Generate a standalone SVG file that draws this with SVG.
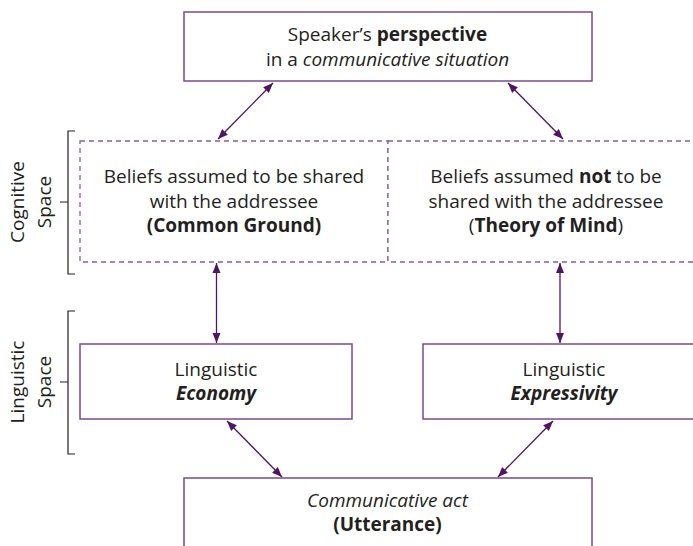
<svg xmlns="http://www.w3.org/2000/svg" width="693" height="546" viewBox="0 0 693 546">
<style>
text{font-family:"Open Sans","Noto Sans",sans-serif;font-size:19px;fill:#231f20;text-anchor:middle}
.b{font-weight:bold}
.i{font-style:italic}
.box{fill:#fff;stroke:#7a4a90;stroke-width:1.5}
.dash{fill:#fff;stroke:#8b5c9e;stroke-width:1.3;stroke-dasharray:5 4}
.arr{stroke:#4f1466;stroke-width:1.3;fill:none;marker-start:url(#h);marker-end:url(#h)}
.br{stroke:#231f20;stroke-width:1.2;fill:none}
</style>
<defs>
<marker id="h" viewBox="0 0 10 10" refX="10" refY="5" markerWidth="10" markerHeight="10" markerUnits="userSpaceOnUse" orient="auto-start-reverse">
<path d="M0,1 L10,5 L0,9 Z" fill="#4f1466"/>
</marker>
</defs>
<g id="connectors">
<line class="arr" x1="273" y1="83" x2="218" y2="139"/>
<line class="arr" x1="508" y1="83" x2="563" y2="139"/>
<line class="arr" x1="216.5" y1="263" x2="216.5" y2="343"/>
<line class="arr" x1="560" y1="263" x2="560" y2="343"/>
<line class="arr" x1="227" y1="421" x2="282" y2="477"/>
<line class="arr" x1="553" y1="421" x2="498" y2="477"/>
</g>
<g id="top">
<rect class="box" x="184" y="12" width="408" height="69"/>
<text x="387.5" y="40.5">Speaker’s <tspan class="b">perspective</tspan></text>
<text x="387.5" y="66">in a <tspan class="i">communicative situation</tspan></text>
</g>
<g id="common-ground">
<rect class="dash" x="80" y="141" width="308" height="121"/>
<text x="234" y="183">Beliefs assumed to be shared</text>
<text x="234" y="207.5">with the addressee</text>
<text x="234" y="231.5" class="b">(Common Ground)</text>
</g>
<g id="theory-of-mind">
<rect class="dash" x="388" y="141" width="317" height="121"/>
<text x="546" y="183">Beliefs assumed <tspan class="b">not</tspan> to be</text>
<text x="546" y="207.5">shared with the addressee</text>
<text x="546" y="231.5">(<tspan class="b">Theory of Mind</tspan>)</text>
</g>
<g id="economy">
<rect class="box" x="80" y="344" width="272" height="75"/>
<text x="216" y="376">Linguistic</text>
<text x="216" y="400" class="b i">Economy</text>
</g>
<g id="expressivity">
<rect class="box" x="423" y="344" width="282" height="75"/>
<text x="564" y="376">Linguistic</text>
<text x="564" y="400" class="b i">Expressivity</text>
</g>
<g id="utterance">
<rect class="box" x="184" y="478" width="408" height="80"/>
<text x="387.5" y="506.5" class="i">Communicative act</text>
<text x="387.5" y="530.5" class="b">(Utterance)</text>
</g>
<g id="cognitive-space">
<path class="br" d="M75,131 H68 V274 H75 M68,202 H60"/>
<text transform="translate(24,202) rotate(-90)">Cognitive</text>
<text transform="translate(51,202) rotate(-90)">Space</text>
</g>
<g id="linguistic-space">
<path class="br" d="M75,311 H68 V454 H75 M68,382 H60"/>
<text transform="translate(24,382) rotate(-90)">Linguistic</text>
<text transform="translate(51,382) rotate(-90)">Space</text>
</g>
</svg>
